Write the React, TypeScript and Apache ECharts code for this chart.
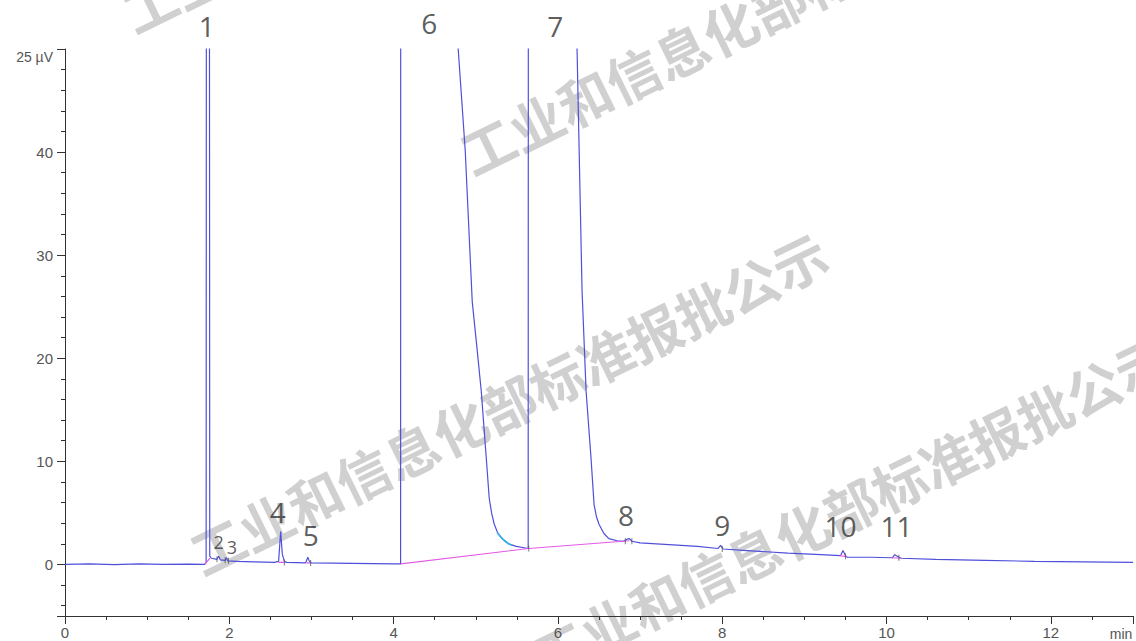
import React, { useEffect, useRef } from "react";
import * as echarts from "echarts";

// Chromatogram signal (time in min, signal in µV)
const signalTime = [
  0, 0.3, 0.6, 0.9, 1.2, 1.5, 1.7, 1.718, 1.725, 1.735, 1.752, 1.762, 1.78, 1.85, 1.87, 1.89,
  1.95, 1.965, 1.98, 2.1, 2.3, 2.55, 2.6, 2.625, 2.645, 2.67, 2.7, 2.93, 2.955, 2.975, 3.0,
  3.5, 4.0, 4.085, 4.092, 4.7, 4.745, 4.787, 4.872, 4.957, 5.012, 5.067, 5.128, 5.164,
  5.195, 5.225, 5.27, 5.322, 5.4, 5.492, 5.638, 5.648, 6.18, 6.21, 6.233, 6.294, 6.343,
  6.403, 6.44, 6.47, 6.5, 6.56, 6.62, 6.72, 6.8, 6.84, 6.87, 6.9, 7.0, 7.3, 7.7, 7.95,
  7.98, 8.01, 8.3, 8.8, 9.2, 9.44, 9.47, 9.5, 9.52, 9.8, 10.07, 10.1, 10.14, 10.18, 10.6,
  11.2, 11.8, 12.4, 13.0,
];
const signalValue = [
  0, 0.05, -0.02, 0.05, 0, 0.03, 0, 0.2, 150, 300, 150, 0.8, 0.6, 0.5, 0.8, 0.45,
  0.4, 0.65, 0.35, 0.3, 0.25, 0.2, 0.3, 3.2, 1.0, 0.3, 0.2, 0.15, 0.7, 0.3, 0.15,
  0.1, 0.05, 0.05, 300, 300, 55, 49.9, 40.1, 25.5, 21.2, 16.8, 10.3, 6.4,
  4.9, 3.9, 3.0, 2.5, 2.0, 1.75, 1.55, 300, 300, 55, 49.9, 26.5, 16.8,
  10.3, 5.8, 4.6, 3.9, 3.0, 2.5, 2.3, 2.25, 2.45, 2.5, 2.25, 2.1, 1.95, 1.75, 1.55,
  1.85, 1.5, 1.35, 1.1, 0.95, 0.85, 1.35, 0.85, 0.7, 0.7, 0.65, 0.95, 0.75, 0.6, 0.5,
  0.4, 0.3, 0.25, 0.2,
];

// Integration baselines (null separates segments)
const baselineTime = [1.7, 1.762, null, 2.6, 2.67, null, 2.94, 2.99, null, 4.088, 5.645, 6.87, null, 9.43, 9.52, null, 10.06, 10.18];
const baselineValue = [0, 0.6, null, 0.2, 0.2, null, 0.15, 0.15, null, 0.05, 1.55, 2.3, null, 0.85, 0.75, null, 0.65, 0.6];

// Highlighted part of peak 6 tail
const tailTime = [5.26, 5.3, 5.35, 5.4, 5.44];
const tailValue = [3.1, 2.7, 2.3, 2.0, 1.85];

// Peak start/end markers
const markTime = [1.85, 1.95, 1.99, 2.67, 2.99, 5.645, 6.82, 6.9, 8.0, 9.5, 10.15];
const markValue = [0.5, 0.4, 0.35, 0.2, 0.15, 1.55, 2.25, 2.25, 1.5, 0.8, 0.65];

// Peak labels
const peakNames = ["1", "2", "3", "4", "5", "6", "7", "8", "9", "10", "11"];
const peakLabelTime = [1.725, 1.87, 2.03, 2.59, 2.99, 4.435, 5.966, 6.83, 8.0, 9.44, 10.12];
const peakLabelValue = [52.2, 2.2, 1.65, 5.1, 2.9, 52.5, 52.2, 4.75, 3.8, 3.7, 3.7];
const smallLabels = ["2", "3"];

// Axes
const xMin = 0;
const xMax = 13;
const xInterval = 2;
const yMin = -5;
const yMax = 50;
const yTopLabel = "25 µV";
const xUnit = "min";

const watermark = "工业和信息化部标准报批公示";

const zip = (a: (number | null)[], b: (number | null)[]) => a.map((v, i) => [v, b[i]]);

export default function App() {
  const ref = useRef<HTMLDivElement>(null);
  useEffect(() => {
    if (!ref.current) return;
    const chart = echarts.init(ref.current, undefined, { renderer: "svg" });
    const rot = 0.455;
    const wm = (x: number, y: number) => ({
      type: "text",
      x,
      y,
      rotation: rot,
      z: -10,
      silent: true,
      style: {
        text: watermark,
        fontSize: 54,
        fontWeight: "bold",
        fontFamily: "Noto Sans CJK SC",
        fill: "rgba(170,170,170,0.55)",
        align: "center",
        verticalAlign: "middle",
      },
    });
    chart.setOption({
      animation: false,
      backgroundColor: "#ffffff",
      grid: { left: 65, right: 0, top: 49, bottom: 25, containLabel: false },
      xAxis: {
        type: "value",
        min: xMin,
        max: xMax,
        interval: xInterval,
        axisLine: { show: true, onZero: false, lineStyle: { color: "#333", width: 1 } },
        axisTick: { show: true, length: 8, lineStyle: { color: "#333" } },
        minorTick: { show: true, splitNumber: 4, length: 4, lineStyle: { color: "#333" } },
        splitLine: { show: false },
        axisLabel: {
          color: "#555",
          fontSize: 15,
          fontFamily: "Liberation Sans",
          margin: 9,
          formatter: (v: number) => (v > 12 ? "" : String(v)),
        },
      },
      yAxis: {
        type: "value",
        min: yMin,
        max: yMax,
        splitNumber: 5,
        axisLine: { show: true, onZero: false, lineStyle: { color: "#333", width: 1 } },
        axisTick: { show: true, length: 8, lineStyle: { color: "#333" } },
        minorTick: { show: true, splitNumber: 5, length: 4, lineStyle: { color: "#333" } },
        splitLine: { show: false },
        axisLabel: {
          color: "#555",
          fontSize: 15,
          fontFamily: "Liberation Sans",
          margin: 12,
          formatter: (v: number) => (v >= yMax || v < 0 ? "" : String(v)),
        },
      },
      graphic: [
        wm(508, 402),
        wm(778, 2),
        wm(850, 505),
        wm(440, -140),
        {
          type: "text",
          x: 53,
          y: 57,
          style: {
            text: yTopLabel,
            fontSize: 14,
            fontFamily: "Liberation Sans",
            fill: "#555",
            align: "right",
            verticalAlign: "middle",
          },
        },
        {
          type: "text",
          x: 1121,
          y: 634,
          style: {
            text: xUnit,
            fontSize: 14,
            fontFamily: "Liberation Sans",
            fill: "#555",
            align: "center",
            verticalAlign: "middle",
          },
        },
      ],
      series: [
        {
          type: "line",
          data: zip(signalTime, signalValue),
          showSymbol: false,
          symbol: "none",
          lineStyle: { color: "#4f4fdc", width: 1.2 },
          z: 3,
        },
        {
          type: "line",
          data: zip(tailTime, tailValue),
          showSymbol: false,
          symbol: "none",
          lineStyle: { color: "#2fb3e6", width: 1.6 },
          z: 4,
        },
        {
          type: "line",
          data: zip(baselineTime, baselineValue),
          connectNulls: false,
          showSymbol: false,
          symbol: "none",
          lineStyle: { color: "#e45be4", width: 1.2 },
          z: 5,
        },
        {
          type: "scatter",
          data: zip(markTime, markValue),
          symbol: "rect",
          symbolSize: [1, 6],
          itemStyle: { color: "#555" },
          z: 6,
          silent: true,
        },
        {
          type: "scatter",
          data: peakNames.map((n, i) => ({
            name: n,
            value: [peakLabelTime[i], peakLabelValue[i]],
            label: smallLabels.includes(n) ? { fontSize: 18 } : undefined,
          })),
          symbolSize: 0,
          clip: false,
          silent: true,
          z: 7,
          label: {
            show: true,
            position: "inside",
            formatter: "{b}",
            color: "#333",
            fontFamily: "Open Sans",
            fontSize: 28,
          },
          labelLayout: { hideOverlap: false },
        },
      ],
    });
    return () => chart.dispose();
  }, []);
  return (
    <div
      ref={ref}
      style={{ position: "fixed", left: 0, top: 0, width: 1136, height: 641 }}
    />
  );
}
